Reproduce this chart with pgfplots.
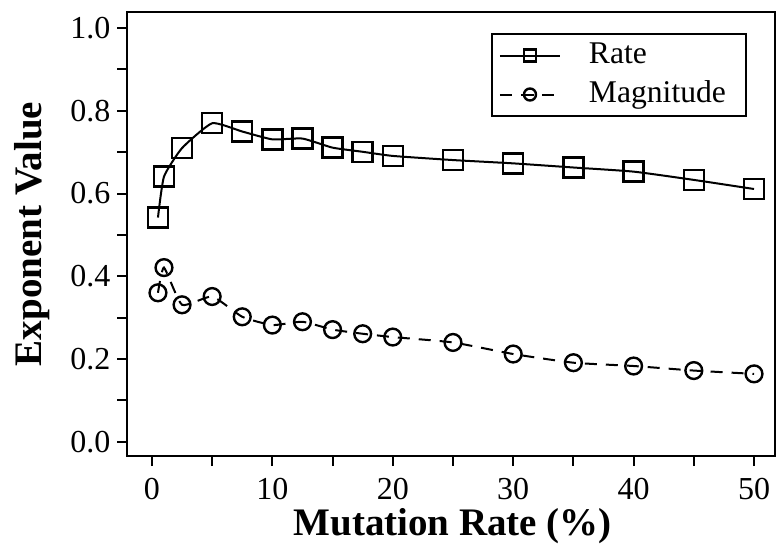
\documentclass[border=0pt]{standalone}
\usepackage{fontspec}
\setmainfont{Liberation Serif}
\usepackage{pgfplots}
\pgfplotsset{compat=1.18}

\begin{document}
\begin{tikzpicture}
\begin{axis}[
    scale only axis,
    width=323.75pt,
    height=222pt,
    xmin=-2.03, xmax=51.74,
    ymin=-0.0346, ymax=1.039,
    xtick={0,10,20,30,40,50},
    minor xtick={5,15,25,35,45},
    ytick={0,0.2,0.4,0.6,0.8,1.0},
    minor ytick={0.1,0.3,0.5,0.7,0.9},
    yticklabel style={/pgf/number format/.cd,fixed,fixed zerofill,precision=1},
    xticklabel style={yshift=-2.5pt},
    /pgf/number format/assume math mode=true,
    tick align=outside,
    xtick pos=bottom, ytick pos=left,
    major tick length=5pt, minor tick length=5pt,
    every tick/.style={line width=1pt, black},
    axis line style={line width=1pt},
    tick label style={font=\fontsize{16}{19}\selectfont},
    xlabel={\textbf{Mutation Rate (\%)}},
    ylabel={\textbf{Exponent Value}},
    xlabel style={font=\fontsize{19.5}{23}\selectfont,
        at={(axis description cs:0.5,0)}, anchor=base, yshift=-39.5pt, xshift=0.75pt},
    ylabel style={font=\fontsize{19.5}{23}\selectfont,
        at={(axis description cs:0,0.5)}, anchor=base, yshift=42.75pt},
    legend style={at={(1,1)}, anchor=north east, xshift=-14pt, yshift=-10.5pt,
        font=\fontsize{15.8}{19}\selectfont, draw=black, line width=1pt,
        inner xsep=3.5pt, inner ysep=1pt, row sep=0pt, column sep=14pt,
        nodes={inner xsep=0pt, inner ysep=2.5pt, text height=11pt, text depth=3.5pt,
            text width=75pt}},
    legend cell align=left,
    legend image code/.code={
        \draw[mark repeat=2, mark phase=2, #1, mark size=3pt]
            plot coordinates {(0pt,0pt) (15pt,0pt) (30pt,0pt)};
    },
]
\addplot[black, line width=1pt, smooth, tension=0.3,
    mark=square, mark size=5pt, mark options={solid, line width=1.2pt}] coordinates {
    (0.5, 0.542)
    (1, 0.641)
    (2.5, 0.710)
    (5, 0.770)
    (7.5, 0.750)
    (10, 0.731)
    (12.5, 0.733)
    (15, 0.711)
    (17.5, 0.701)
    (20, 0.691)
    (25, 0.681)
    (30, 0.673)
    (35, 0.663)
    (40, 0.653)
    (45, 0.633)
    (50, 0.611)
};
\addlegendentry{Rate}
\addplot[black, line width=1pt, dash pattern=on 6pt off 4.5pt, smooth, tension=0.3,
    mark=o, mark size=4.2pt, mark options={solid, line width=1.2pt}] coordinates {
    (0.5, 0.360)
    (1, 0.421)
    (2.5, 0.331)
    (5, 0.351)
    (7.5, 0.302)
    (10, 0.282)
    (12.5, 0.290)
    (15, 0.271)
    (17.5, 0.261)
    (20, 0.253)
    (25, 0.240)
    (30, 0.212)
    (35, 0.191)
    (40, 0.183)
    (45, 0.172)
    (50, 0.164)
};
\addlegendentry{Magnitude}
\end{axis}
\pgfresetboundingbox
\path (current axis.south west) ++(-63.75pt,-43.5pt) rectangle ++(389pt,271.5pt);
\end{tikzpicture}
\end{document}
